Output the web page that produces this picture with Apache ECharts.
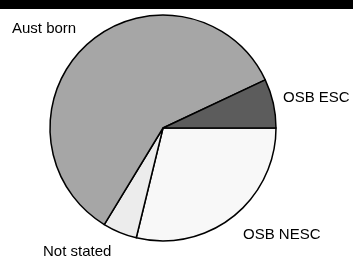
<!DOCTYPE html>
<html style="height: 100%">

<head>
    <meta charset="utf-8">
    <script src="https://cdn.jsdelivr.net/npm/echarts@6/dist/echarts.min.js"></script>
</head>

<body style="height: 100%; margin: 0; background: #fff">
    <div id="main" style="width: 353px;height:258px;"></div>
    <script type="text/javascript">
        // slices go clockwise from 3 o'clock
        var categories = ['OSB NESC', 'Not stated', 'Aust born', 'OSB ESC'];
        var values = [28.8, 4.9, 59.3, 7.0];
        var colors = ['#f8f8f8', '#ececec', '#a6a6a6', '#5c5c5c'];
        // label anchor (left, middle) for each slice
        var labelPos = [[243, 235], [43, 252], [12, 29], [283, 98]];

        var myChart = echarts.init(document.getElementById('main'));
        myChart.setOption({
            animation: false,
            graphic: [{
                type: 'rect',
                shape: { x: 0, y: 0, width: 353, height: 9 },
                style: { fill: '#000' }
            }],
            series: [{
                type: 'pie',
                center: [163, 128],
                radius: 113,
                startAngle: 0,
                clockwise: true,
                avoidLabelOverlap: false,
                data: categories.map(function (c, i) {
                    return {
                        name: c,
                        value: values[i],
                        itemStyle: { color: colors[i] }
                    };
                }),
                itemStyle: {
                    borderColor: '#000',
                    borderWidth: 1.5
                },
                label: {
                    show: true,
                    position: 'outside',
                    formatter: '{b}',
                    color: '#000',
                    fontFamily: 'Liberation Sans',
                    fontSize: 15
                },
                labelLine: { show: false },
                labelLayout: function (p) {
                    var pos = labelPos[p.dataIndex];
                    return {
                        x: pos[0],
                        y: pos[1],
                        align: 'left',
                        verticalAlign: 'middle'
                    };
                },
                emphasis: { disabled: true }
            }]
        });
    </script>
</body>

</html>
